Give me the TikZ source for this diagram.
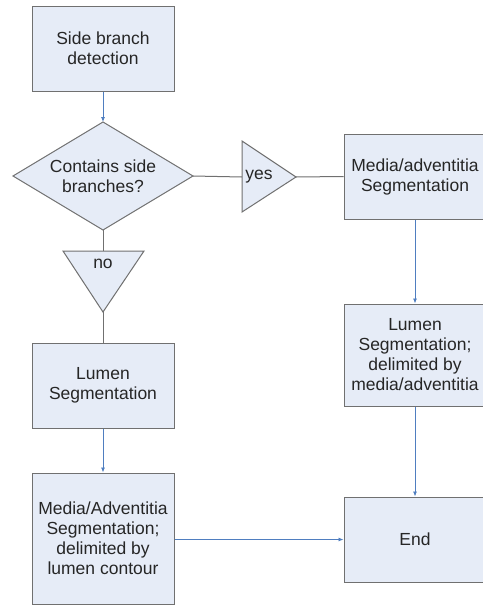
\documentclass[tikz,border=0pt]{standalone}
\usepackage{fontspec}
\setmainfont{Liberation Sans}
\usetikzlibrary{arrows.meta}
\definecolor{boxfill}{HTML}{E6ECF7}
\definecolor{boxdraw}{HTML}{707070}
\definecolor{arrowblue}{HTML}{4F7EC0}
\begin{document}
\begin{tikzpicture}[x=1pt,y=-1pt,
  every node/.style={font=\fontsize{17.5}{20}\selectfont, text=black!85},
  procbox/.style={draw=boxdraw, fill=boxfill, line width=1pt, rectangle, align=center,
    minimum width=142pt, minimum height=85pt, inner sep=0pt},
  shapeline/.style={draw=boxdraw, fill=boxfill, line width=1pt},
  plainline/.style={draw=boxdraw, line width=1pt},
  flow/.style={draw=arrowblue, line width=0.8pt, -{Latex[length=5pt,width=4pt]}}]
\useasboundingbox (0,0) rectangle (482,605);
\fill[white] (0,0) rectangle (482,605);
% boxes
\node[procbox] (detect) at (103,48.5) {Side branch\\detection};
\node[procbox] (mediaA) at (415,176.5) {Media/adventitia\\Segmentation};
\node[procbox, minimum height=102pt] (lumenB) at (415,355) {Lumen\\Segmentation;\\delimited by\\media/adventitia};
\node[procbox] (endn) at (415,539.5) {End};
\node[procbox] (lumenA) at (103,385.5) {Lumen\\Segmentation};
\node[procbox, minimum height=131pt] (mediaB) at (103,538.5) {Media/Adventitia\\Segmentation;\\delimited by\\lumen contour};
% decision diamond
\coordinate (decT) at (103,122);
\coordinate (decB) at (103,230);
\coordinate (decL) at (13,176);
\coordinate (decR) at (193,176);
\draw[shapeline] (decT) -- (decR) -- (decB) -- (decL) -- cycle;
\node[align=center] (dec) at (103,176) {Contains side\\branches?};
% yes triangle
\coordinate (yesL) at (242,177);
\coordinate (yesR) at (296,177);
\draw[shapeline] (242,141) -- (yesR) -- (242,212) -- cycle;
\node (yes) at (259,177) {yes};
% no triangle
\coordinate (noT) at (103,251);
\coordinate (noB) at (103,312);
\draw[shapeline] (63,251) -- (144,251) -- (noB) -- cycle;
\node (no) at (103,264) {no};
% connectors
\draw[flow] (detect) -- (decT);
\draw[plainline] (decR) -- (yesL);
\draw[plainline] (yesR) -- (mediaA.west);
\draw[flow] (mediaA) -- (lumenB);
\draw[flow] (lumenB) -- (endn);
\draw[plainline] (decB) -- (noT);
\draw[plainline] (noB) -- (lumenA.north);
\draw[flow] (lumenA) -- (mediaB);
\draw[flow] (mediaB.east |- endn.west) -- (endn.west);
\end{tikzpicture}
\end{document}
